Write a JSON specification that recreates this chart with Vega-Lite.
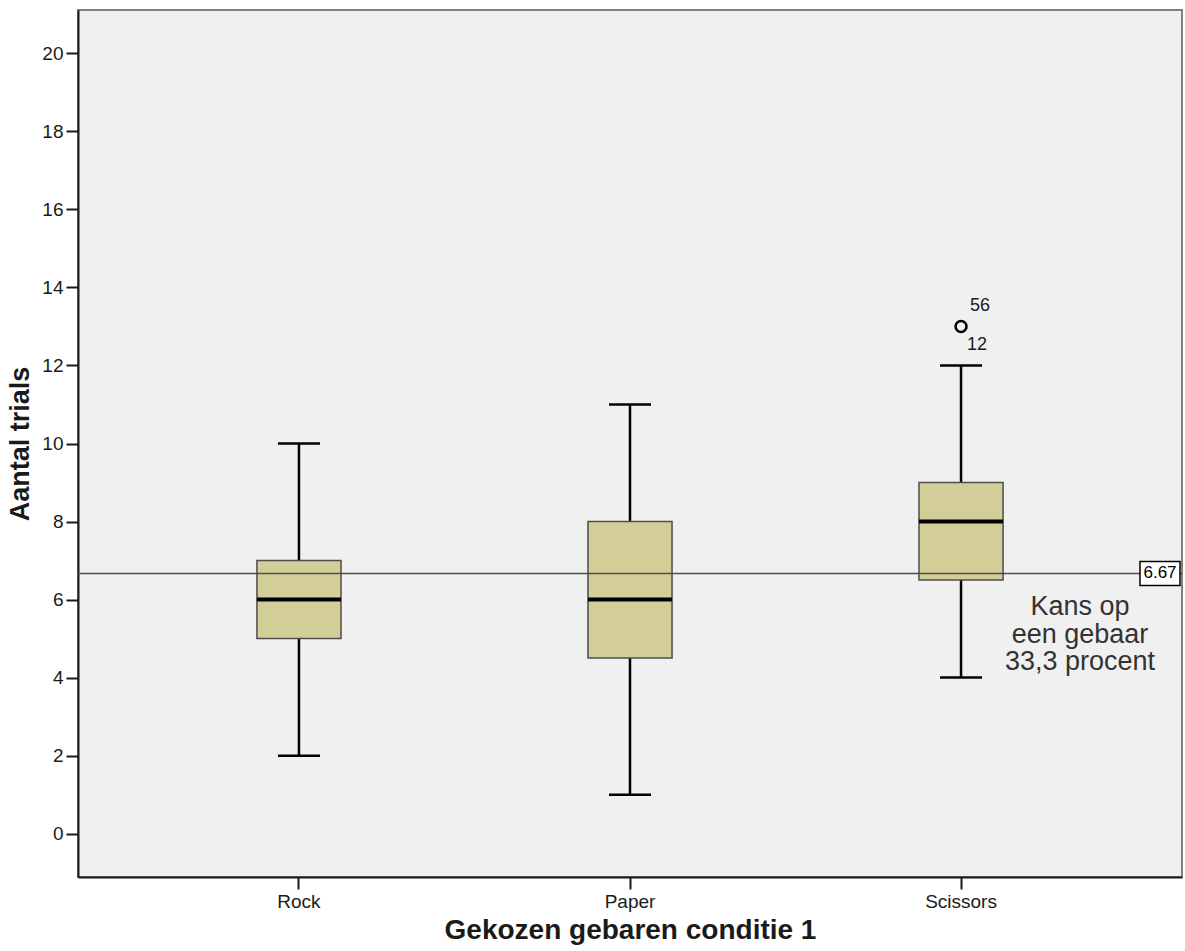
{
  "$schema": "https://vega.github.io/schema/vega-lite/v6.json",
  "width": 1104,
  "height": 867,
  "autosize": {"type": "none"},
  "padding": {"left": 78, "top": 10, "right": 3, "bottom": 74},
  "background": "white",
  "config": {
    "font": "Liberation Sans",
    "view": {"fill": "#f0f0f0", "stroke": "#808080", "strokeWidth": 2}
  },
  "datasets": {
    "boxes": [
      {"gebaar": "Rock", "lower": 2, "q1": 5, "median": 6, "q3": 7, "upper": 10},
      {"gebaar": "Paper", "lower": 1, "q1": 4.5, "median": 6, "q3": 8, "upper": 11},
      {"gebaar": "Scissors", "lower": 4, "q1": 6.5, "median": 8, "q3": 9, "upper": 12}
    ],
    "outliers": [
      {"gebaar": "Scissors", "value": 13, "case": "56"},
      {"gebaar": "Scissors", "value": 13, "case": "12"}
    ],
    "ref": [
      {"value": 6.67, "label": "6.67", "note": "Kans op|een gebaar|33,3 procent"}
    ]
  },
  "layer": [
    {
      "data": {"name": "boxes"},
      "mark": {"type": "rule", "color": "black", "strokeWidth": 2.5, "opacity": 1},
      "encoding": {
        "x": {
          "field": "gebaar", "type": "nominal", "sort": ["Rock", "Paper", "Scissors"],
          "scale": {"paddingInner": 0, "paddingOuter": 0.1675},
          "title": "Gekozen gebaren conditie 1",
          "axis": {
            "labelAngle": 0, "labelFontSize": 19, "labelColor": "#1a1a1a", "labelPadding": 3,
            "tickSize": 12, "tickColor": "#1a1a1a", "tickWidth": 2,
            "domainColor": "#1a1a1a", "domainWidth": 2,
            "titleFontSize": 28, "titleFontWeight": "bold", "titleColor": "#1a1a1a", "titlePadding": 5
          }
        },
        "y": {
          "field": "lower", "type": "quantitative",
          "scale": {"domain": [-1.11, 21.11], "nice": false, "zero": false},
          "title": "Aantal trials",
          "axis": {
            "values": [0, 2, 4, 6, 8, 10, 12, 14, 16, 18, 20], "grid": false,
            "labelFontSize": 19, "labelColor": "#1a1a1a", "labelPadding": 3,
            "tickSize": 12, "tickColor": "#1a1a1a", "tickWidth": 2,
            "domainColor": "#1a1a1a", "domainWidth": 2,
            "titleFontSize": 27, "titleFontWeight": "bold", "titleColor": "#1a1a1a", "titlePadding": 7
          }
        },
        "y2": {"field": "upper"}
      }
    },
    {
      "data": {"name": "boxes"},
      "mark": {"type": "tick", "color": "black", "thickness": 2.5, "size": 42, "opacity": 1},
      "encoding": {
        "x": {"field": "gebaar", "type": "nominal", "sort": ["Rock", "Paper", "Scissors"]},
        "y": {"field": "lower", "type": "quantitative"}
      }
    },
    {
      "data": {"name": "boxes"},
      "mark": {"type": "tick", "color": "black", "thickness": 2.5, "size": 42, "opacity": 1},
      "encoding": {
        "x": {"field": "gebaar", "type": "nominal", "sort": ["Rock", "Paper", "Scissors"]},
        "y": {"field": "upper", "type": "quantitative"}
      }
    },
    {
      "data": {"name": "boxes"},
      "mark": {"type": "bar", "fill": "#d3ce97", "stroke": "#4d4d4d", "strokeWidth": 1.5, "opacity": 1, "width": {"band": 0.254}},
      "encoding": {
        "x": {"field": "gebaar", "type": "nominal", "sort": ["Rock", "Paper", "Scissors"]},
        "y": {"field": "q1", "type": "quantitative"},
        "y2": {"field": "q3"}
      }
    },
    {
      "data": {"name": "ref"},
      "mark": {"type": "rule", "color": "#4d4d4d", "strokeWidth": 1.5, "opacity": 1},
      "encoding": {
        "y": {"field": "value", "type": "quantitative"}
      }
    },
    {
      "data": {"name": "boxes"},
      "mark": {"type": "tick", "color": "black", "thickness": 4, "size": 84, "opacity": 1},
      "encoding": {
        "x": {"field": "gebaar", "type": "nominal", "sort": ["Rock", "Paper", "Scissors"]},
        "y": {"field": "median", "type": "quantitative"}
      }
    },
    {
      "data": {"name": "outliers"},
      "transform": [{"filter": "datum.case === '56'"}],
      "mark": {"type": "point", "shape": "circle", "filled": false, "stroke": "black", "strokeWidth": 2.5, "size": 120, "opacity": 1},
      "encoding": {
        "x": {"field": "gebaar", "type": "nominal", "sort": ["Rock", "Paper", "Scissors"]},
        "y": {"field": "value", "type": "quantitative"}
      }
    },
    {
      "data": {"name": "outliers"},
      "transform": [{"filter": "datum.case === '56'"}],
      "mark": {"type": "text", "align": "left", "baseline": "middle", "dx": 9, "dy": -20, "fontSize": 18, "color": "#1a1a1a"},
      "encoding": {
        "x": {"field": "gebaar", "type": "nominal", "sort": ["Rock", "Paper", "Scissors"]},
        "y": {"field": "value", "type": "quantitative"},
        "text": {"field": "case"}
      }
    },
    {
      "data": {"name": "outliers"},
      "transform": [{"filter": "datum.case === '12'"}],
      "mark": {"type": "text", "align": "left", "baseline": "middle", "dx": 6, "dy": 19, "fontSize": 18, "color": "#1a1a1a"},
      "encoding": {
        "x": {"field": "gebaar", "type": "nominal", "sort": ["Rock", "Paper", "Scissors"]},
        "y": {"field": "value", "type": "quantitative"},
        "text": {"field": "case"}
      }
    },
    {
      "data": {"name": "ref"},
      "mark": {"type": "point", "shape": "M-1,-0.6L1,-0.6L1,0.6L-1,0.6Z", "size": 1600, "filled": true, "fill": "white", "stroke": "black", "strokeWidth": 1.5, "opacity": 1, "xOffset": -22},
      "encoding": {
        "x": {"value": "width"},
        "y": {"field": "value", "type": "quantitative"}
      }
    },
    {
      "data": {"name": "ref"},
      "mark": {"type": "text", "align": "center", "baseline": "middle", "dx": -22, "fontSize": 17, "color": "black"},
      "encoding": {
        "x": {"value": "width"},
        "y": {"field": "value", "type": "quantitative"},
        "text": {"field": "label"}
      }
    },
    {
      "data": {"name": "ref"},
      "mark": {"type": "text", "align": "center", "baseline": "middle", "lineBreak": "|", "lineHeight": 27.5, "dx": -102, "dy": 34, "fontSize": 27, "color": "#333333"},
      "encoding": {
        "x": {"value": "width"},
        "y": {"field": "value", "type": "quantitative"},
        "text": {"field": "note"}
      }
    }
  ]
}
